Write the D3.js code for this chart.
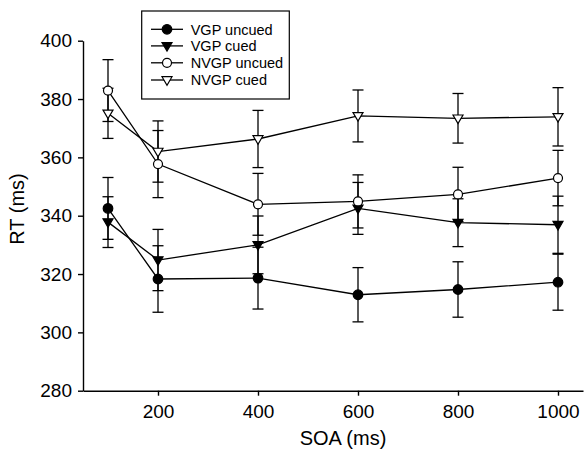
<!DOCTYPE html>
<html>
<head>
<meta charset="utf-8">
<script src="https://cdn.jsdelivr.net/npm/d3@7"></script>
<style>
  body { margin: 0; background: #fff; }
  svg text { font-family: "Liberation Sans", Arial, Helvetica, sans-serif; fill: #000; }
</style>
</head>
<body>
<svg id="chart" width="588" height="449"></svg>
<script>
// SOA levels (ms)
var soa = [100, 200, 400, 600, 800, 1000];

// mean RT and error bars
var vgpUncued = [342.5, 318.3, 318.6, 312.9, 314.7, 317.2];
var vgpUncuedErr = [10.6, 11.4, 10.6, 9.3, 9.5, 9.6];
var vgpCued = [337.8, 324.8, 330.0, 342.5, 337.6, 336.9];
var vgpCuedErr = [8.7, 10.5, 9.9, 8.9, 8.2, 9.8];
var nvgpUncued = [382.9, 357.7, 343.9, 344.9, 347.3, 352.9];
var nvgpUncuedErr = [10.6, 11.5, 10.6, 9.1, 9.3, 9.5];
var nvgpCued = [375.1, 362.0, 366.3, 374.2, 373.4, 373.9];
var nvgpCuedErr = [8.6, 10.5, 9.8, 8.9, 8.5, 10.0];

var xTicks = [200, 400, 600, 800, 1000];
var yTicks = [280, 300, 320, 340, 360, 380, 400];

var seriesNames = ["VGP uncued", "VGP cued", "NVGP uncued", "NVGP cued"];

initChart();

function initChart() {
    var svg = d3.select("#chart");

    var x = d3.scaleLinear().domain([50, 1050]).range([83, 583]);
    var y = d3.scaleLinear().domain([280, 400]).range([390.7, 40.7]);

    var series = [
        {name: seriesNames[0], vals: vgpUncued, err: vgpUncuedErr, shape: "circle", fill: "#000"},
        {name: seriesNames[1], vals: vgpCued, err: vgpCuedErr, shape: "tri", fill: "#000"},
        {name: seriesNames[2], vals: nvgpUncued, err: nvgpUncuedErr, shape: "circle", fill: "#fff"},
        {name: seriesNames[3], vals: nvgpCued, err: nvgpCuedErr, shape: "tri", fill: "#fff"}
    ];

    // axes
    var xAxis = svg.append("g")
            .attr("transform", "translate(0," + y(280) + ")")
            .call(d3.axisBottom(x).tickValues(xTicks).tickFormat(d3.format("d"))
                    .tickSize(5).tickSizeOuter(0).tickPadding(9));
    var yAxis = svg.append("g")
            .attr("transform", "translate(" + x(50) + ",0)")
            .call(d3.axisLeft(y).tickValues(yTicks).tickFormat(d3.format("d"))
                    .tickSize(5).tickSizeOuter(0).tickPadding(6));

    [xAxis, yAxis].forEach(function(a) {
        a.selectAll("path, line").attr("stroke", "#000").attr("stroke-width", 1.4);
        a.selectAll("text").style("font-size", "19px").attr("fill", "#000");
    });

    svg.append("text")
            .attr("x", 343)
            .attr("y", 445)
            .attr("text-anchor", "middle")
            .style("font-size", "20px")
            .text("SOA (ms)");

    svg.append("text")
            .attr("transform", "translate(24,209) rotate(-90)")
            .attr("text-anchor", "middle")
            .style("font-size", "20px")
            .text("RT (ms)");

    var tri = "M-5,-3.3L5,-3.3L0,5.2Z";

    function marker(g, s, cx, cy) {
        if (s.shape === "circle") {
            g.append("circle")
                    .attr("cx", cx).attr("cy", cy)
                    .attr("r", s.fill === "#000" ? 4.8 : 4.5)
                    .attr("fill", s.fill)
                    .attr("stroke", "#000")
                    .attr("stroke-width", 1.2);
        } else {
            g.append("path")
                    .attr("d", tri)
                    .attr("transform", "translate(" + cx + "," + cy + ")")
                    .attr("fill", s.fill)
                    .attr("stroke", "#000")
                    .attr("stroke-width", 1.2);
        }
    }

    var line = d3.line()
            .x(function(d, i) { return x(soa[i]); })
            .y(function(d) { return y(d); });

    // error bars first
    series.forEach(function(s) {
        var g = svg.append("g");
        s.vals.forEach(function(v, i) {
            var cx = x(soa[i]);
            g.append("line")
                    .attr("x1", cx).attr("x2", cx)
                    .attr("y1", y(v - s.err[i])).attr("y2", y(v + s.err[i]))
                    .attr("stroke", "#000").attr("stroke-width", 1.3);
            [v - s.err[i], v + s.err[i]].forEach(function(e) {
                g.append("line")
                        .attr("x1", cx - 5.5).attr("x2", cx + 5.5)
                        .attr("y1", y(e)).attr("y2", y(e))
                        .attr("stroke", "#000").attr("stroke-width", 1.3);
            });
        });
    });

    // connecting lines
    series.forEach(function(s) {
        svg.append("path")
                .datum(s.vals)
                .attr("d", line)
                .attr("fill", "none")
                .attr("stroke", "#000")
                .attr("stroke-width", 1.3);
    });

    // markers
    series.forEach(function(s) {
        var g = svg.append("g");
        s.vals.forEach(function(v, i) {
            marker(g, s, x(soa[i]), y(v));
        });
    });

    // legend
    var lg = svg.append("g");
    lg.append("rect")
            .attr("x", 141.7).attr("y", 11)
            .attr("width", 147.6).attr("height", 88)
            .attr("fill", "#fff")
            .attr("stroke", "#000")
            .attr("stroke-width", 1.2);
    var rowY = [29.3, 45.9, 62.8, 80];
    series.forEach(function(s, i) {
        lg.append("line")
                .attr("x1", 151).attr("x2", 183)
                .attr("y1", rowY[i]).attr("y2", rowY[i])
                .attr("stroke", "#000").attr("stroke-width", 1.3);
        marker(lg, s, 167, rowY[i]);
        lg.append("text")
                .attr("x", 190.7)
                .attr("y", rowY[i])
                .attr("dy", "0.36em")
                .style("font-size", "14.5px")
                .text(s.name);
    });
}
</script>
</body>
</html>
